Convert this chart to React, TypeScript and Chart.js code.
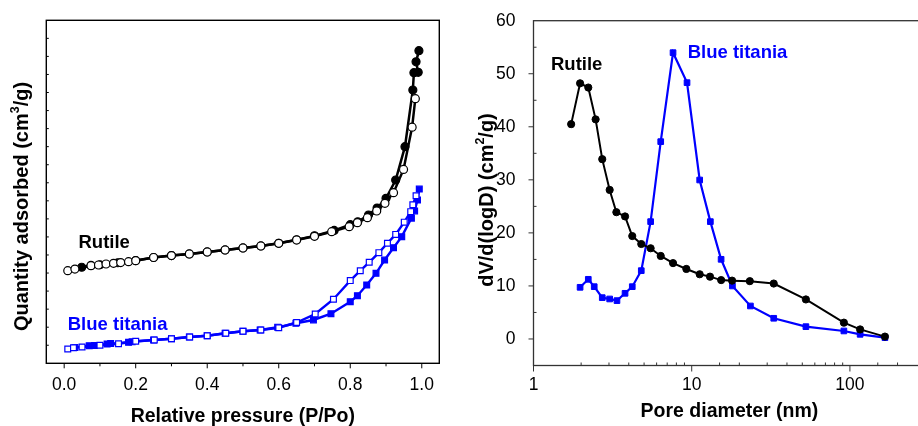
import React, { useEffect, useRef } from 'react';
import { Chart, registerables } from 'chart.js';
Chart.register(...registerables);

const FONT = '"Liberation Sans", Arial, Helvetica, sans-serif';
const BLUE = '#0000ff';

// ---------- Left panel: N2 isotherms (relative pressure P/Po vs quantity adsorbed, arbitrary units) ----------
const rutileAdsP = [0.049, 0.075, 0.1, 0.15, 0.2, 0.25, 0.3, 0.35, 0.4, 0.45, 0.5, 0.55, 0.6, 0.65, 0.7, 0.755, 0.8, 0.821, 0.851, 0.875, 0.9, 0.927, 0.953, 0.975, 0.978, 0.99, 0.984, 0.992];
const rutileAdsQ = [26.6, 27.1, 27.3, 27.85, 28.45, 29.3, 29.85, 30.3, 30.85, 31.4, 31.95, 32.5, 33.25, 34.2, 35.3, 36.8, 38.4, 39.2, 41.07, 43.0, 45.7, 50.77, 60.0, 75.7, 80.5, 80.6, 83.5, 86.6];
const rutileDesP = [0.01, 0.03, 0.075, 0.096, 0.117, 0.138, 0.158, 0.18, 0.2, 0.25, 0.3, 0.35, 0.4, 0.45, 0.5, 0.55, 0.6, 0.65, 0.7, 0.748, 0.797, 0.82, 0.848, 0.874, 0.897, 0.921, 0.949, 0.973, 0.982];
const rutileDesQ = [25.65, 26.1, 27.03, 27.23, 27.5, 27.7, 27.9, 28.15, 28.42, 29.3, 29.85, 30.27, 30.83, 31.38, 31.93, 32.49, 33.23, 34.15, 35.17, 36.45, 37.84, 38.95, 40.33, 42.18, 44.3, 47.26, 53.7, 65.4, 73.3];
const blueAdsP = [0.03, 0.07, 0.085, 0.12, 0.13, 0.18, 0.19, 0.25, 0.3, 0.35, 0.4, 0.45, 0.5, 0.548, 0.597, 0.648, 0.697, 0.746, 0.8, 0.82, 0.846, 0.872, 0.896, 0.921, 0.944, 0.971, 0.98, 0.988, 0.993];
const blueAdsQ = [4.4, 4.87, 4.95, 5.35, 5.45, 5.82, 5.95, 6.45, 6.81, 7.28, 7.64, 8.31, 8.86, 9.22, 9.97, 11.08, 12.0, 13.75, 17.06, 18.72, 21.69, 24.93, 28.6, 32.0, 35.07, 40.2, 42.2, 45.2, 48.25];
const blueDesP = [0.01, 0.026, 0.05, 0.1, 0.152, 0.2, 0.252, 0.3, 0.351, 0.4, 0.452, 0.5, 0.55, 0.6, 0.65, 0.702, 0.753, 0.8, 0.828, 0.853, 0.88, 0.904, 0.927, 0.951, 0.969, 0.975, 0.984];
const blueDesQ = [3.96, 4.32, 4.51, 4.99, 5.43, 6.09, 6.45, 6.81, 7.28, 7.64, 8.31, 8.86, 9.22, 9.86, 11.3, 13.65, 17.75, 22.9, 25.65, 27.97, 30.64, 33.24, 35.7, 39.1, 42.0, 43.9, 46.4];
const pressureTickLabels = ['0.0', '0.2', '0.4', '0.6', '0.8', '1.0'];

// ---------- Right panel: pore size distribution ----------
const rutileD = [1.73, 1.97, 2.22, 2.47, 2.72, 3.03, 3.34, 3.79, 4.21, 4.8, 5.5, 6.37, 7.62, 9.25, 11.23, 13.05, 15.35, 18.0, 23.3, 33.0, 52.7, 91.6, 116, 166.5];
const rutilePSD = [40.5, 48.2, 47.4, 41.4, 33.9, 28.1, 23.9, 23.1, 19.4, 17.9, 17.1, 15.65, 14.3, 13.2, 12.2, 11.75, 11.1, 11.0, 10.9, 10.45, 7.45, 3.08, 1.8, 0.45];
const blueD = [1.97, 2.22, 2.42, 2.72, 3.03, 3.37, 3.79, 4.21, 4.8, 5.5, 6.37, 7.62, 9.34, 11.23, 13.12, 15.34, 18.09, 23.5, 33.0, 52.7, 91.6, 116, 166.5];
const bluePSD = [9.74, 11.25, 9.86, 7.79, 7.54, 7.23, 8.61, 9.86, 12.88, 22.12, 37.2, 53.97, 48.32, 29.97, 22.12, 15.02, 9.99, 6.22, 3.9, 2.32, 1.51, 0.88, 0.25];
const psdYTickLabels = ['0', '10', '20', '30', '40', '50', '60'];
const psdXTickLabels = ['1', '10', '100'];

const zip = (xs: number[], ys: number[]) => xs.map((x, i) => ({ x, y: ys[i] }));

type Part = { t: string; sup?: boolean };
type Ann = { text: string; x: number; y: number; color: string };
type FrameOpts = {
  axisColor: string;
  axisWidth: number;
  xMajor: (v: number) => boolean;
  yMajor: (v: number) => boolean;
  xMajorLen: number; xMinorLen: number; xMajorOut: boolean; xMinorOut: boolean;
  yMajorLen: number; yMinorLen: number; yMajorOut: boolean; yMinorOut: boolean;
  xTitle: Part[]; xTitleBaseline: number; xTitleSize: number;
  yTitle: Part[]; yTitleBaselineX: number; yTitleCenterY: number; yTitleSize: number;
  anns: Ann[];
};

function drawParts(ctx: CanvasRenderingContext2D, parts: Part[], size: number, cx: number, baseline: number) {
  const supSize = size * 0.62;
  const widths = parts.map((p) => {
    ctx.font = `bold ${p.sup ? supSize : size}px ${FONT}`;
    return ctx.measureText(p.t).width;
  });
  const total = widths.reduce((a, b) => a + b, 0);
  let x = cx - total / 2;
  parts.forEach((p, i) => {
    ctx.font = `bold ${p.sup ? supSize : size}px ${FONT}`;
    ctx.fillText(p.t, x, p.sup ? baseline - size * 0.42 : baseline);
    x += widths[i];
  });
}

function framePlugin(o: FrameOpts) {
  return {
    id: 'frame',
    afterDraw(chart: any) {
      const { ctx, chartArea: a, scales } = chart;
      ctx.save();
      ctx.strokeStyle = o.axisColor;
      ctx.lineWidth = o.axisWidth;
      ctx.strokeRect(a.left, a.top, a.right - a.left, a.bottom - a.top);
      ctx.lineWidth = 1;
      const xs = scales.x;
      for (const t of xs.ticks) {
        const px = xs.getPixelForValue(t.value);
        const major = o.xMajor(t.value);
        const out = major ? o.xMajorOut : o.xMinorOut;
        const len = major ? o.xMajorLen : o.xMinorLen;
        if (!out && (px <= a.left + 1 || px >= a.right - 1)) continue;
        if (px < a.left - 0.5 || px > a.right + 0.5) continue;
        ctx.beginPath();
        ctx.moveTo(px, a.bottom);
        ctx.lineTo(px, a.bottom + (out ? len : -len));
        ctx.stroke();
      }
      const ys = scales.y;
      for (const t of ys.ticks) {
        const py = ys.getPixelForValue(t.value);
        const major = o.yMajor(t.value);
        const out = major ? o.yMajorOut : o.yMinorOut;
        const len = major ? o.yMajorLen : o.yMinorLen;
        if (py <= a.top + 1 || py >= a.bottom - 1) continue;
        ctx.beginPath();
        ctx.moveTo(a.left, py);
        ctx.lineTo(a.left + (out ? -len : len), py);
        ctx.stroke();
      }
      // axis titles
      ctx.fillStyle = '#000';
      ctx.textAlign = 'left';
      ctx.textBaseline = 'alphabetic';
      drawParts(ctx, o.xTitle, o.xTitleSize, (a.left + a.right) / 2, o.xTitleBaseline);
      ctx.save();
      ctx.translate(o.yTitleBaselineX, o.yTitleCenterY);
      ctx.rotate(-Math.PI / 2);
      drawParts(ctx, o.yTitle, o.yTitleSize, 0, 0);
      ctx.restore();
      // annotations
      ctx.font = `bold 18.5px ${FONT}`;
      for (const an of o.anns) {
        ctx.fillStyle = an.color;
        ctx.fillText(an.text, xs.getPixelForValue(an.x), ys.getPixelForValue(an.y));
      }
      ctx.restore();
    },
  };
}

const tickFont = { family: FONT, size: 17.5 };

export default function App() {
  const leftRef = useRef<HTMLCanvasElement>(null);
  const rightRef = useRef<HTMLCanvasElement>(null);

  useEffect(() => {
    const left = new Chart(leftRef.current!, {
      type: 'scatter',
      data: {
        datasets: [
          {
            label: 'Rutile adsorption', data: zip(rutileAdsP, rutileAdsQ), showLine: true,
            borderColor: '#000', borderWidth: 2.5, pointRadius: 4, pointBackgroundColor: '#000',
            pointBorderColor: '#000', pointBorderWidth: 1.2, order: 4,
          },
          {
            label: 'Rutile desorption', data: zip(rutileDesP, rutileDesQ), showLine: true,
            borderColor: '#000', borderWidth: 2.5, pointRadius: 4, pointBackgroundColor: '#fff',
            pointBorderColor: '#000', pointBorderWidth: 1.2, order: 3,
          },
          {
            label: 'Blue titania adsorption', data: zip(blueAdsP, blueAdsQ), showLine: true,
            borderColor: BLUE, borderWidth: 2.4, pointStyle: 'rect', pointRadius: 4.1, pointBackgroundColor: BLUE,
            pointBorderColor: BLUE, pointBorderWidth: 1.2, order: 2,
          },
          {
            label: 'Blue titania desorption', data: zip(blueDesP, blueDesQ), showLine: true,
            borderColor: BLUE, borderWidth: 2.4, pointStyle: 'rect', pointRadius: 4.1, pointBackgroundColor: '#fff',
            pointBorderColor: BLUE, pointBorderWidth: 1.2, order: 1,
          },
        ],
      },
      options: {
        animation: false,
        responsive: false,
        maintainAspectRatio: false,
        layout: { padding: { left: 0, top: 20.3, right: 20.7, bottom: 0 } },
        plugins: { legend: { display: false }, tooltip: { enabled: false } },
        elements: { line: { tension: 0 } },
        scales: {
          x: {
            type: 'linear', min: -0.05, max: 1.049,
            afterFit: (s: any) => { s.height = 62.7; },
            grid: { display: false }, border: { display: false },
            ticks: {
              stepSize: 0.1, includeBounds: false, autoSkip: false, maxRotation: 0, padding: 3,
              font: tickFont, color: '#000',
              callback: (v: any) => {
                const k = Math.round(Number(v) * 10);
                return k % 2 === 0 ? pressureTickLabels[k / 2] ?? '' : '';
              },
            },
          },
          y: {
            type: 'linear', min: 0, max: 95,
            afterFit: (s: any) => { s.width = 46.3; },
            grid: { display: false }, border: { display: false },
            ticks: { stepSize: 5, display: false },
          },
        },
      },
      plugins: [
        framePlugin({
          axisColor: '#000', axisWidth: 1.4,
          xMajor: (v) => Math.round(v * 10) % 2 === 0,
          yMajor: () => false,
          xMajorLen: 5, xMinorLen: 3, xMajorOut: true, xMinorOut: true,
          yMajorLen: 2.5, yMinorLen: 2.5, yMajorOut: false, yMinorOut: false,
          xTitle: [{ t: 'Relative pressure (P/Po)' }], xTitleBaseline: 422, xTitleSize: 19.5,
          yTitle: [{ t: 'Quantity adsorbed (cm' }, { t: '3', sup: true }, { t: '/g)' }],
          yTitleBaselineX: 27.5, yTitleCenterY: 206.5, yTitleSize: 20,
          anns: [
            { text: 'Rutile', x: 0.04, y: 32.0, color: '#000' },
            { text: 'Blue titania', x: 0.01, y: 9.33, color: BLUE },
          ],
        }) as any,
      ],
    });

    const right = new Chart(rightRef.current!, {
      type: 'scatter',
      data: {
        datasets: [
          {
            label: 'Rutile', data: zip(rutileD, rutilePSD), showLine: true,
            borderColor: '#000', borderWidth: 2, pointRadius: 3.6, pointBackgroundColor: '#000',
            pointBorderColor: '#000', pointBorderWidth: 1, order: 1,
          },
          {
            label: 'Blue titania', data: zip(blueD, bluePSD), showLine: true,
            borderColor: BLUE, borderWidth: 2.2, pointStyle: 'rect', pointRadius: 4, pointBackgroundColor: BLUE,
            pointBorderColor: BLUE, pointBorderWidth: 1, order: 2,
          },
        ],
      },
      options: {
        animation: false,
        responsive: false,
        maintainAspectRatio: false,
        layout: { padding: { left: 0, top: 20.7, right: 34.6, bottom: 0 } },
        plugins: { legend: { display: false }, tooltip: { enabled: false } },
        elements: { line: { tension: 0 } },
        scales: {
          x: {
            type: 'logarithmic', min: 1, max: 300,
            afterFit: (s: any) => { s.height = 60.5; },
            grid: { display: false }, border: { display: false },
            ticks: {
              autoSkip: false, maxRotation: 0, padding: 1.5, font: tickFont, color: '#000',
              callback: (v: any) => {
                const e = Math.log10(Number(v));
                return Math.abs(e - Math.round(e)) < 1e-9 ? psdXTickLabels[Math.round(e)] ?? '' : '';
              },
            },
          },
          y: {
            type: 'linear', min: -5, max: 60,
            afterFit: (s: any) => { s.width = 73.5; },
            grid: { display: false }, border: { display: false },
            ticks: {
              stepSize: 5, autoSkip: false, padding: 10, font: tickFont, color: '#000',
              callback: (v: any) => {
                const n = Math.round(Number(v));
                return n >= 0 && n % 10 === 0 ? psdYTickLabels[n / 10] ?? '' : '';
              },
            },
          },
        },
      },
      plugins: [
        framePlugin({
          axisColor: '#333', axisWidth: 1.3,
          xMajor: (v) => { const e = Math.log10(v); return Math.abs(e - Math.round(e)) < 1e-9; },
          yMajor: (v) => Math.round(v) % 10 === 0,
          xMajorLen: 6, xMinorLen: 3, xMajorOut: true, xMinorOut: false,
          yMajorLen: 5, yMinorLen: 3, yMajorOut: true, yMinorOut: false,
          xTitle: [{ t: 'Pore diameter (nm)' }], xTitleBaseline: 416.5, xTitleSize: 19.5,
          yTitle: [{ t: 'dV/d(logD) (cm' }, { t: '2', sup: true }, { t: '/g)' }],
          yTitleBaselineX: 32.5, yTitleCenterY: 200, yTitleSize: 20,
          anns: [
            { text: 'Rutile', x: 1.29, y: 50.7, color: '#000' },
            { text: 'Blue titania', x: 9.43, y: 52.9, color: BLUE },
          ],
        }) as any,
      ],
    });

    return () => { left.destroy(); right.destroy(); };
  }, []);

  return (
    <div style={{ position: 'fixed', left: 0, top: 0, width: 918, height: 426, overflow: 'hidden', background: '#fff' }}>
      <canvas ref={leftRef} width={460} height={426} style={{ position: 'absolute', left: 0, top: 0, width: 460, height: 426 }} />
      <canvas ref={rightRef} width={500} height={426} style={{ position: 'absolute', left: 460, top: 0, width: 500, height: 426 }} />
    </div>
  );
}
